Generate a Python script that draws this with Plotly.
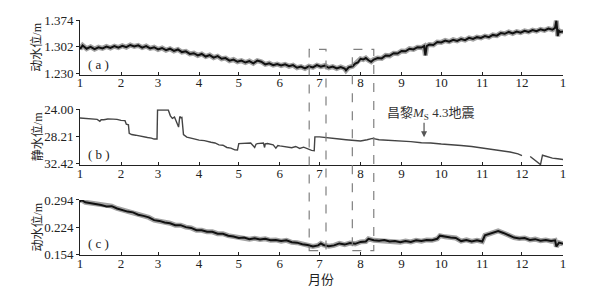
import plotly.graph_objects as go

# month tick positions (day of year) and labels
month_days = [0, 31, 59, 90, 120, 151, 181, 212, 243, 273, 304, 334, 365]
month_labels = ["1", "2", "3", "4", "5", "6", "7", "8", "9", "10", "11", "12", "1"]

# (a) dynamic water level (m)
days_a = [0, 2, 5, 8, 11, 14, 17, 20, 23, 26, 29, 32, 35, 38, 41, 44, 47, 50, 53, 56,
          59, 62, 65, 68, 71, 74, 77, 80, 83, 86, 89, 92, 95, 98, 101, 104, 107, 110, 113, 116,
          119, 122, 125, 128, 131, 134, 137, 140, 143, 146, 149, 152, 155, 158, 161, 164, 167, 170, 173, 176,
          179, 182, 185, 188, 191, 194, 197, 200, 201, 203, 206, 208, 210, 212, 214, 216, 218, 220, 222, 225,
          228, 231, 234, 237, 240, 243, 246, 249, 252, 255, 258, 260, 261, 262, 264, 267, 270, 273, 276, 279,
          282, 285, 288, 291, 294, 297, 300, 303, 306, 309, 312, 315, 318, 321, 324, 327, 330, 333, 336, 339,
          342, 345, 348, 351, 354, 357, 359, 360, 361, 362, 363, 365]
level_a = [1.296, 1.306, 1.297, 1.302, 1.296, 1.301, 1.298, 1.303, 1.299, 1.304, 1.300, 1.305, 1.301, 1.307, 1.303, 1.306, 1.300, 1.304, 1.298, 1.301,
           1.295, 1.299, 1.293, 1.297, 1.291, 1.295, 1.288, 1.290, 1.283, 1.285, 1.279, 1.283, 1.276, 1.280, 1.273, 1.277, 1.270, 1.272, 1.265, 1.268,
           1.262, 1.265, 1.260, 1.264, 1.258, 1.265, 1.262, 1.255, 1.258, 1.253, 1.256, 1.252, 1.255, 1.250, 1.253, 1.246, 1.249, 1.244, 1.250, 1.247,
           1.253, 1.249, 1.252, 1.246, 1.249, 1.244, 1.248, 1.244, 1.239, 1.247, 1.250, 1.257, 1.260, 1.270, 1.268, 1.272, 1.266, 1.262, 1.268, 1.272,
           1.271, 1.279, 1.278, 1.285, 1.284, 1.291, 1.290, 1.297, 1.295, 1.301, 1.300, 1.304, 1.279, 1.304, 1.308, 1.307, 1.315, 1.314, 1.319, 1.316,
           1.321, 1.318, 1.323, 1.320, 1.326, 1.323, 1.328, 1.326, 1.331, 1.328, 1.334, 1.332, 1.339, 1.337, 1.342, 1.338, 1.343, 1.340, 1.345, 1.342,
           1.347, 1.344, 1.349, 1.346, 1.351, 1.348, 1.353, 1.372, 1.331, 1.345, 1.342, 1.343]

# (b) static water level (m), reversed axis
days_b = [0, 5, 9, 13, 15, 16, 18, 21, 25, 28, 31, 34, 35, 36.6, 37.2, 39, 42, 45, 48, 51,
          54, 56, 58.2, 58.6, 62, 66.7, 68.3, 69.8, 71.4, 72.9, 74.5, 75.4, 76.2, 77, 78.2, 80.7, 84, 87, 90, 94,
          99, 102, 105, 108, 111, 114, 117, 119, 120, 124, 129, 132, 133, 134, 136, 138.6, 139.5, 140, 141.7, 144,
          146, 148, 149.5, 151, 154, 157, 160, 163, 166, 169, 172, 175, 177, 177.5, 181, 186, 191, 196, 201, 206,
          212, 217, 221, 226, 232, 238, 243, 250, 258, 265, 273, 280, 288, 296, 304, 311, 319, 325, 331, 334,
          334.5, 340.2, 344, 348, 349.5, 353, 357, 361, 365]
level_b = [25.35, 25.45, 25.42, 25.55, 25.85, 25.6, 25.62, 25.5, 25.52, 25.55, 25.7, 25.75, 26.3, 26.4, 27.7, 27.9, 28.0, 28.15, 28.2, 28.35,
           28.45, 28.6, 28.6, 24.1, 24.08, 24.1, 25.0, 25.4, 25.2, 26.0, 26.75, 25.1, 25.3, 25.25, 27.9, 28.3, 28.4, 28.6, 28.76, 28.85,
           29.1, 29.2, 29.5, 29.55, 29.9, 30.0, 30.27, 30.3, 29.3, 29.25, 29.2, 29.9, 29.4, 29.3, 29.25, 29.2, 29.9, 29.35, 29.3, 29.45,
           29.5, 30.0, 29.6, 29.66, 29.75, 29.8, 29.95, 29.75, 30.05, 29.85, 30.15, 30.36, 30.4, 28.26, 28.26, 28.4, 28.5, 28.6, 28.7, 28.75,
           28.9, 28.7, 28.5, 28.7, 28.75, 28.8, 28.86, 29.0, 29.16, 29.2, 29.37, 29.45, 29.6, 29.75, 30.0, 30.15, 30.37, 30.6, 30.9, 31.17,
           None, 31.3, 31.9, 32.55, 31.1, 31.3, 31.56, 31.65, 31.77]

# (c) dynamic water level (m)
days_c = [0, 1, 4, 8, 12, 16, 20, 24, 28, 32, 36, 40, 44, 48, 52, 56, 60, 64, 68, 72,
          76, 80, 84, 88, 92, 96, 100, 104, 108, 112, 116, 120, 124, 128, 132, 136, 140, 144, 148, 152,
          156, 160, 164, 168, 172, 176, 180, 182, 184, 188, 192, 196, 200, 204, 208, 212, 216, 218, 222, 226,
          230, 234, 238, 242, 246, 250, 254, 258, 262, 266, 270, 272, 276, 280, 284, 288, 292, 296, 300, 304,
          306, 310, 314, 316, 320, 324, 328, 332, 336, 340, 344, 348, 352, 356, 359, 360, 362, 365]
level_c = [0.289, 0.294, 0.288, 0.286, 0.283, 0.281, 0.277, 0.278, 0.272, 0.268, 0.264, 0.262, 0.256, 0.253, 0.249, 0.242, 0.240, 0.236, 0.234, 0.229,
           0.229, 0.224, 0.222, 0.216, 0.216, 0.212, 0.212, 0.207, 0.207, 0.202, 0.200, 0.196, 0.197, 0.193, 0.195, 0.192, 0.194, 0.190, 0.191, 0.188,
           0.190, 0.185, 0.184, 0.180, 0.178, 0.174, 0.177, 0.182, 0.178, 0.175, 0.177, 0.182, 0.179, 0.183, 0.181, 0.186, 0.187, 0.194, 0.190, 0.189,
           0.191, 0.187, 0.188, 0.185, 0.188, 0.186, 0.190, 0.188, 0.191, 0.190, 0.194, 0.202, 0.199, 0.197, 0.196, 0.188, 0.191, 0.187, 0.190, 0.187,
           0.203, 0.207, 0.211, 0.214, 0.209, 0.202, 0.197, 0.195, 0.196, 0.191, 0.193, 0.189, 0.191, 0.188, 0.190, 0.174, 0.184, 0.181]

ticks_a = [1.230, 1.302, 1.374]
ticks_b = [24.00, 28.21, 32.42]
ticks_c = [0.154, 0.224, 0.294]

boxes = [(173.2, 185.9), (205.8, 222.0)]
quake_day = 260
quake_level = 28.3

SERIF = "Liberation Serif, Times New Roman, serif"
MIX = "Liberation Serif, Noto Sans CJK SC, serif"
INK = "#222"

fig = go.Figure()
for xs, ys, xa, ya in [(days_a, level_a, "x", "y"), (days_c, level_c, "x3", "y3")]:
    fig.add_trace(go.Scatter(x=xs, y=ys, mode="lines", xaxis=xa, yaxis=ya,
                             line=dict(color="rgba(70,70,70,0.5)", width=5), hoverinfo="skip"))
    fig.add_trace(go.Scatter(x=xs, y=ys, mode="lines", xaxis=xa, yaxis=ya,
                             line=dict(color="#111", width=2)))
fig.add_trace(go.Scatter(x=days_b, y=level_b, mode="lines", xaxis="x2", yaxis="y2",
                         connectgaps=False, line=dict(color="#444", width=1.4)))

xcommon = dict(range=[0, 365], tickvals=month_days, ticktext=month_labels, ticks="inside",
               ticklen=3, tickcolor=INK, showline=True, linecolor=INK, linewidth=1,
               ticklabelstandoff=-4,
               showgrid=False, zeroline=False, tickfont=dict(family=SERIF, size=13, color=INK))
ycommon = dict(ticks="outside", ticklen=3, tickcolor=INK, showline=True, linecolor=INK,
               linewidth=1, showgrid=False, zeroline=False,
               tickfont=dict(family=SERIF, size=13, color=INK))

# page body has an 8px margin: figure is 600x289 so that the plot sits where the reference's does
fig.update_layout(
    width=600, height=289, margin=dict(l=72, r=45, t=5, b=42),
    paper_bgcolor="white", plot_bgcolor="white", showlegend=False,
    xaxis=dict(anchor="y", domain=[0, 1], **xcommon),
    xaxis2=dict(anchor="y2", domain=[0, 1], **xcommon),
    xaxis3=dict(anchor="y3", domain=[0, 1], **xcommon),
    yaxis=dict(anchor="x", domain=[0.7665, 1.0], range=[1.2269, 1.374], tickvals=ticks_a,
               ticktext=["%.3f" % v for v in ticks_a], **ycommon),
    yaxis2=dict(anchor="x2", domain=[0.383, 0.6198], range=[32.615, 24.0], tickvals=ticks_b,
                ticktext=["%.2f" % v for v in ticks_b], **ycommon),
    yaxis3=dict(anchor="x3", domain=[0, 0.2343], range=[0.1522, 0.294], tickvals=ticks_c,
                ticktext=["%.3f" % v for v in ticks_c], **ycommon),
)

for x0, x1 in boxes:
    fig.add_shape(type="rect", xref="x", yref="paper", x0=x0, x1=x1, y0=0.0186, y1=0.8748,
                  line=dict(color="#808080", width=1.2, dash="dash"), layer="above")

anns = []
for txt, py in [("( a )", 0.81), ("( b )", 0.4269), ("( c )", 0.0496)]:
    anns.append(dict(text=txt, xref="paper", yref="paper", x=0.0393, y=py, showarrow=False,
                     xanchor="center", yanchor="middle",
                     font=dict(family=SERIF, size=13, color=INK)))
for txt, py in [("动水位/m", 0.8822), ("静水位/m", 0.5014), ("动水位/m", 0.1171)]:
    anns.append(dict(text=txt, xref="paper", yref="paper", x=-0.089, y=py, showarrow=False,
                     xanchor="center", yanchor="middle",
                     textangle=-90, font=dict(family=MIX, size=12, color=INK)))
anns.append(dict(text="月份", xref="paper", yref="paper", x=0.498, y=-0.1033, showarrow=False,
                 xanchor="center", yanchor="middle",
                 font=dict(family=MIX, size=13, color=INK)))
anns.append(dict(text="", xref="x2", yref="y2", x=quake_day, y=quake_level, ax=0, ay=-16,
                 showarrow=True, arrowhead=2, arrowsize=1, arrowwidth=1.2, arrowcolor="#555"))
anns.append(dict(text="昌黎<i>M</i><sub>S</sub> 4.3地震", xref="x2", yref="y2", x=265, y=24.6,
                 xanchor="center", yanchor="middle", showarrow=False,
                 font=dict(family=MIX, size=13, color="#333")))
fig.update_layout(annotations=anns)

fig.write_html("out.html")
